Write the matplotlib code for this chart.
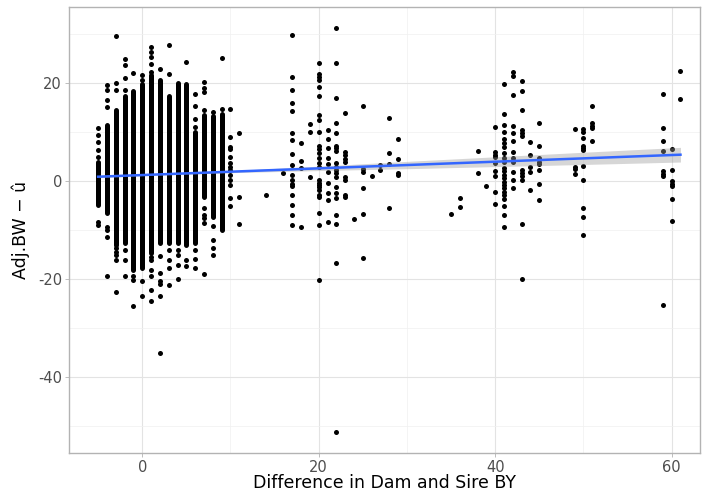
import numpy as np
import matplotlib
matplotlib.use("Agg")
import matplotlib.pyplot as plt

plt.rcParams["axes.unicode_minus"] = False

# dense columns (x -5..9): points overlap into a solid strip between lo and hi
dense_x = [-5, -4, -3, -2, -1, 0, 1, 2, 3, 4, 5, 6, 7, 8, 9]
dense_lo = [-4.9, -6.6, -13.1, -12.7, -18.2, -17.8, -14.7, -12.7, -12.7, -12.7, -13.1, -12.7, -3.2, -7.3, -10.0]
dense_hi = [4.0, 11.4, 14.5, 17.3, 18.4, 19.9, 21.6, 20.6, 17.3, 20.1, 19.8, 10.1, 13.5, 13.3, 13.8]

# separate points around the dense columns
near_pts = {
    -5: [10.8, 9.4, 8.0, 6.3, 5.0, -8.3, -9.0],
    -4: [19.6, 18.6, 16.5, 15.2, -9.3, -10.0, -11.4, -19.5],
    -3: [29.6, 20.1, 18.7, -13.7, -14.4, -15.1, -16.1, -22.6],
    -2: [25.0, 23.7, 21.0, 18.6, -14.1, -16.1, -19.5],
    -1: [22.1, -19.5, -20.2, -25.6],
    0: [21.6, 20.6, -20.5, -23.5],
    1: [27.4, 26.4, 25.4, 24.0, 22.3, -15.5, -16.1, -18.2, -19.5, -22.2, -24.6],
    2: [23.0, -15.3, -18.8, -20.5, -21.0, -23.5, -35.1],
    3: [27.9, 21.8, -14.1, -16.1, -17.8, -21.2],
    4: [-14.1, -15.1, -17.1, -20.1],
    5: [24.4, -16.1, -17.4],
    6: [17.8, 15.4, 12.6, 11.0, -14.1, -16.0, -17.8],
    7: [20.3, 19.1, 18.2, 14.6, -5.6, -6.9, -7.6, -8.6, -19.0],
    8: [14.1, -9.2, -12.0, -13.7, -15.1],
    9: [25.2, 14.8],
    10: [14.7, 9.0, 7.0, 6.5, 5.0, 3.7, 2.9, 2.2, 1.2, 0.2, -0.8, -3.4, -5.1],
    11: [9.9, -3.3, -8.8],
}

far_pts = {
    14: [-2.8],
    16: [1.7],
    17: [29.8, 21.3, 18.7, 15.9, 14.4, 9.9, 8.5, 5.5, 3.2, 1.2, 0.3, -0.5, -1.0, -2.9, -4.9, -6.9, -9.0],
    18: [7.7, 4.1, 2.6, -9.3],
    19: [11.6, 10.0, 0.8],
    20: [24.1, 22.0, 21.3, 20.7, 19.2, 17.4, 13.5, 12.4, 10.0, 7.1, 6.5, 5.8, 4.8, 3.6, 2.9,
         0.2, -0.3, -0.8, -1.3, -1.8, -2.9, -3.3, -6.6, -9.0, -20.2],
    21: [10.5, 8.7, 6.7, 4.8, 3.5, 1.8, -0.3, -2.4, -3.9, -8.3],
    22: [31.4, 24.1, 17.0, 11.8, 9.9, 7.1, 6.7, 6.2, 3.6, 2.9, 2.2, 1.6, 0.9, -1.3, -2.5,
         -3.5, -6.9, -8.8, -16.8, -51.4],
    23: [13.9, 6.0, 5.3, 4.6, 3.9, 0.9, 0.2, -2.9, -3.3],
    24: [-7.8],
    25: [15.3, 2.4, 1.9, -1.5, -6.7, -15.7],
    26: [1.0],
    27: [3.3, 2.2],
    28: [12.9, 5.7, 3.5, -5.4],
    29: [8.6, 4.6, 1.7, 1.2],
    35: [-6.7],
    36: [-3.5, -5.3],
    38: [6.1, 1.7],
    39: [-0.9],
    40: [11.0, 5.9, 5.4, 4.9, 3.6, 2.1, 1.1, -2.2, -4.6],
    41: [19.8, 13.7, 11.5, 10.0, 8.6, 7.8, 7.0, 5.8, 4.7, 4.0, 2.7, 2.0, 1.3, 0.6, -0.1,
         -0.8, -1.5, -2.2, -2.8, -3.6, -5.1, -7.0, -9.3],
    42: [22.3, 21.4, 17.7, 11.2, 9.8, 8.3, 6.0, 4.7, 4.0, 1.8, 0.3, -1.5],
    43: [20.5, 18.5, 14.6, 10.4, 9.8, 9.3, 2.3, 1.7, 1.1, 0.3, -8.7, -20.1],
    44: [8.0, 5.3, 2.8, 1.9, -1.9],
    45: [11.8, 7.2, 4.7, 4.0, 3.4, 2.3, -0.5, -3.8],
    49: [10.6, 2.9, 2.5, 1.5],
    50: [10.6, 10.0, 8.8, 7.2, 6.8, 6.4, 3.0, 0.2, -5.5, -7.4, -11.1],
    51: [15.3, 11.8, 11.3, 10.9, 8.3],
    59: [17.8, 10.9, 8.1, 6.1, 2.0, 1.5, 1.0, -25.3],
    60: [6.6, 2.2, 0.0, -0.5, -0.9, -3.6, -8.2],
    61: [22.6, 16.8],
}

# fitted line and confidence band
fit_x = [-5, 61]
fit_y = [0.9, 5.4]
ci_x = [-5, 0, 10, 20, 30, 40, 50, 61]
ci_half = [0.2, 0.15, 0.2, 0.45, 0.75, 1.0, 1.25, 1.5]

fig = plt.figure(figsize=(7.02, 4.93), dpi=100)
ax = fig.add_axes([0.0983, 0.0811, 0.8987, 0.9047])

border = "#b3b3b3"
for s in ax.spines.values():
    s.set_color(border)
    s.set_linewidth(1.0)

ax.set_xlim(-8.3, 63.2)
ax.set_ylim(-55.6, 35.6)
ax.set_xticks([0, 20, 40, 60])
ax.set_xticks([10, 30, 50], minor=True)
ax.set_yticks([-40, -20, 0, 20])
ax.set_yticks([-50, -30, -10, 10, 30], minor=True)
ax.grid(which="major", color="#e3e3e3", linewidth=0.8)
ax.grid(which="minor", color="#f0f0f0", linewidth=0.5)
ax.set_axisbelow(True)
ax.tick_params(which="major", length=3, width=0.6, color=border, labelsize=10.5,
               labelcolor="#4d4d4d", pad=2)
ax.tick_params(which="minor", length=0)

dot_pt = 3.6
for x, lo, hi in zip(dense_x, dense_lo, dense_hi):
    ax.plot([x, x], [lo, hi], color="black", linewidth=dot_pt,
            solid_capstyle="round", zorder=2)

for group in (near_pts, far_pts):
    xs = [x for x, ys in group.items() for _ in ys]
    ys = [y for ys in group.values() for y in ys]
    ax.scatter(xs, ys, s=dot_pt ** 2, color="black", linewidths=0, zorder=2)

half = np.array(ci_half)
line_at_ci = np.interp(ci_x, fit_x, fit_y)
ax.fill_between(ci_x, line_at_ci - half, line_at_ci + half, color="#999999",
                alpha=0.4, linewidth=0, zorder=3)
ax.plot(fit_x, fit_y, color="#3366FF", linewidth=1.8, zorder=4)

ax.set_xlabel("Difference in Dam and Sire BY", fontsize=12.5, labelpad=-0.5)
ax.set_ylabel("Adj.BW \u2212 \u00fb", fontsize=12.5, labelpad=6)

fig.savefig("out.png", dpi=100)
